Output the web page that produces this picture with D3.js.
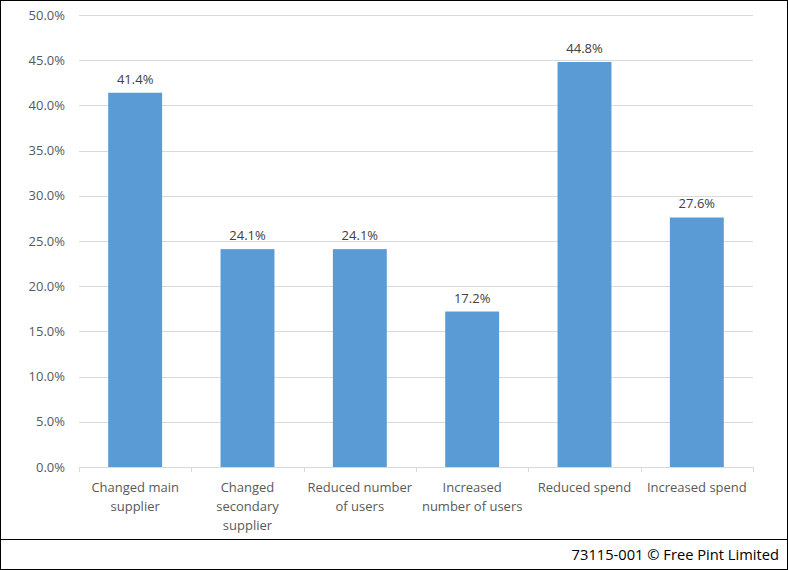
<!DOCTYPE html>
<html>
<head>
<meta charset="utf-8">
<script src="https://cdn.jsdelivr.net/npm/d3@7"></script>
<style>
	body { margin: 0; background: #fff; }
	svg { display: block; }
	text { font-family: "Open Sans", "Liberation Sans", sans-serif; }
</style>
</head>
<body>
<div id="chart"></div>
<script>
(function () {
	'use strict';

	var categories = [
		["Changed main", "supplier"],
		["Changed", "secondary", "supplier"],
		["Reduced number", "of users"],
		["Increased", "number of users"],
		["Reduced spend"],
		["Increased spend"]
	];
	var values = [41.4, 24.1, 24.1, 17.2, 44.8, 27.6];
	var yTicks = [0, 5, 10, 15, 20, 25, 30, 35, 40, 45, 50];
	var footer = "73115-001 \u00a9 Free Pint Limited";

	var W = 788, H = 570;
	var svg = d3.select("#chart")
		.append("svg")
		.attr("width", W)
		.attr("height", H);

	// outer frame and footer divider
	svg.append("rect")
		.attr("x", 0.5).attr("y", 0.5)
		.attr("width", W - 1).attr("height", H - 1)
		.attr("fill", "none").attr("stroke", "#000");
	svg.append("line")
		.attr("x1", 0).attr("x2", W)
		.attr("y1", 539.5).attr("y2", 539.5)
		.attr("stroke", "#000");

	var x = d3.scaleBand()
		.domain(d3.range(categories.length))
		.range([79, 753])
		.paddingInner(0.52)
		.paddingOuter(0.26);
	var y = d3.scaleLinear().domain([0, 50]).range([467, 15]);

	// gridlines
	svg.append("g").selectAll("line")
		.data(yTicks.slice(1))
		.enter().append("line")
		.attr("x1", 79).attr("x2", 753)
		.attr("y1", function (d) { return Math.round(y(d)) + 0.5; })
		.attr("y2", function (d) { return Math.round(y(d)) + 0.5; })
		.attr("stroke", "#d9d9d9");

	// y labels
	svg.append("g").selectAll("text")
		.data(yTicks)
		.enter().append("text")
		.attr("x", 65)
		.attr("y", function (d) { return y(d); })
		.attr("dy", "0.35em")
		.attr("text-anchor", "end")
		.attr("font-size", 13)
		.attr("fill", "#595959")
		.text(function (d) { return d.toFixed(1) + "%"; });

	// bars
	svg.append("g").selectAll("rect")
		.data(values)
		.enter().append("rect")
		.attr("x", function (d, i) { return x(i); })
		.attr("width", x.bandwidth())
		.attr("y", function (d) { return y(d); })
		.attr("height", function (d) { return y(0) - y(d); })
		.attr("fill", "#5b9bd5");

	// value labels
	svg.append("g").selectAll("text")
		.data(values)
		.enter().append("text")
		.attr("x", function (d, i) { return x(i) + x.bandwidth() / 2; })
		.attr("y", function (d) { return y(d) - 9; })
		.attr("text-anchor", "middle")
		.attr("font-size", 13)
		.attr("fill", "#404040")
		.text(function (d) { return d.toFixed(1) + "%"; });

	// x axis line and ticks
	svg.append("line")
		.attr("x1", 79).attr("x2", 753)
		.attr("y1", 467.5).attr("y2", 467.5)
		.attr("stroke", "#d9d9d9");
	var step = (753 - 79) / categories.length;
	svg.append("g").selectAll("line")
		.data(d3.range(categories.length + 1))
		.enter().append("line")
		.attr("x1", function (d) { return Math.round(79 + d * step) + 0.5; })
		.attr("x2", function (d) { return Math.round(79 + d * step) + 0.5; })
		.attr("y1", 467).attr("y2", 472)
		.attr("stroke", "#d9d9d9");

	// category labels
	var cat = svg.append("g").selectAll("text")
		.data(categories)
		.enter().append("text")
		.attr("text-anchor", "middle")
		.attr("font-size", 13)
		.attr("fill", "#595959");
	cat.selectAll("tspan")
		.data(function (d, i) { return d.map(function (s) { return { s: s, i: i }; }); })
		.enter().append("tspan")
		.attr("x", function (d) { return x(d.i) + x.bandwidth() / 2; })
		.attr("y", function (d, j) { return 492 + j * 19; })
		.text(function (d) { return d.s; });

	svg.append("text")
		.attr("x", 779).attr("y", 560)
		.attr("text-anchor", "end")
		.attr("font-size", 14.7)
		.attr("fill", "#000")
		.text(footer);
}());
</script>
</body>
</html>
